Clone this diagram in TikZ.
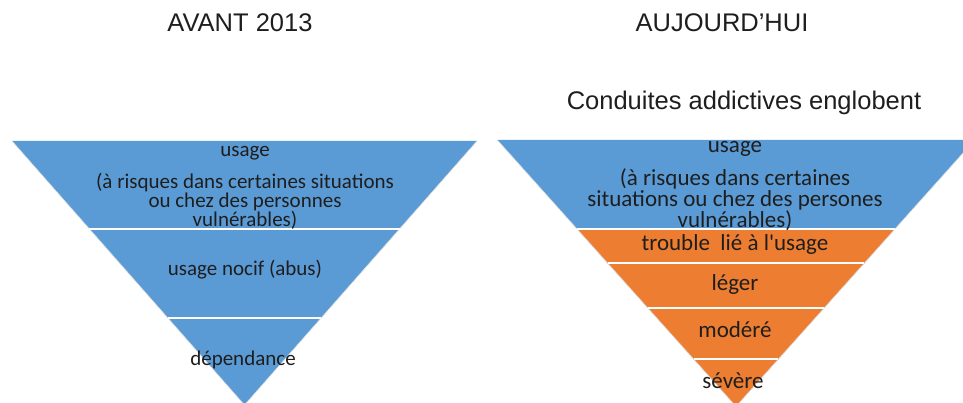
\documentclass[tikz,border=0pt]{standalone}
\usepackage{fontspec}
\setmainfont{Liberation Sans}
\newfontfamily\calfont{Carlito}
\usetikzlibrary{calc}
\definecolor{pyrblue}{HTML}{5B9BD5}
\definecolor{pyrorange}{HTML}{ED7D31}
\definecolor{txt}{HTML}{1E1E1E}
\begin{document}
\begin{tikzpicture}[x=1pt,y=-1pt,
  title/.style={font=\fontsize{25.5}{28}\selectfont, text=txt, inner sep=0pt, anchor=base},
  llbl/.style={font=\calfont\fontsize{21}{19}\selectfont, text=txt, inner sep=0pt, align=center},
  rlbl/.style={font=\calfont\fontsize{23}{21}\selectfont, text=txt, inner sep=0pt, align=center},
  divider/.style={draw=white, line width=1.5pt},
  edge/.style={draw=white!75!gray, line width=0.6pt}]
\useasboundingbox (0,0) rectangle (963,403);
% left pyramid
\coordinate (LA) at (12,141);
\coordinate (LB) at (477,141);
\coordinate (LC) at (244.5,405);
\fill[pyrblue] (LA) -- (LB) -- (LC) -- cycle;
\draw[edge] (LA) -- (LC) -- (LB);
\coordinate (L1a) at ($(LA)!0.3333!(LC)$);
\coordinate (L1b) at ($(LB)!0.3333!(LC)$);
\coordinate (L2a) at ($(LA)!0.6705!(LC)$);
\coordinate (L2b) at ($(LB)!0.6705!(LC)$);
\draw[divider] (L1a) -- (L1b);
\draw[divider] (L2a) -- (L2b);
% right pyramid
\coordinate (RA) at (497.3,140);
\coordinate (RB) at (974.7,140);
\coordinate (RC) at (736,406.4);
\coordinate (R1a) at ($(RA)!0.334!(RC)$);
\coordinate (R1b) at ($(RB)!0.334!(RC)$);
\coordinate (R2a) at ($(RA)!0.462!(RC)$);
\coordinate (R2b) at ($(RB)!0.462!(RC)$);
\coordinate (R3a) at ($(RA)!0.631!(RC)$);
\coordinate (R3b) at ($(RB)!0.631!(RC)$);
\coordinate (R4a) at ($(RA)!0.822!(RC)$);
\coordinate (R4b) at ($(RB)!0.822!(RC)$);
\fill[pyrblue] (RA) -- (RB) -- (RC) -- cycle;
\fill[pyrorange] (R1a) -- (R1b) -- (RC) -- cycle;
\draw[edge] (RA) -- (RC) -- (RB);
\draw[divider] (R1a) -- (R1b);
\draw[divider] (R2a) -- (R2b);
\draw[divider] (R3a) -- (R3b);
\draw[divider] (R4a) -- (R4b);
% titles
\node[title] (t1) at (240,32) {AVANT 2013};
\node[title] (t2) at (722,32) {AUJOURD’HUI};
\node[title] (t3) at (744,110) {Conduites addictives englobent};
% left labels
\node[llbl, anchor=base] (l1) at (245,157) {usage};
\node[llbl] (l2) at (245,201.5) {(à risques dans certaines situations\\ou chez des personnes\\vulnérables)};
\node[llbl, anchor=base] (l3) at (245,275) {usage nocif (abus)};
\node[llbl, anchor=base] (l4) at (243,365) {dépendance};
% right labels
\node[rlbl, anchor=base] (r1) at (735,153) {usage};
\node[rlbl] (r2) at (735,199.5) {(à risques dans certaines\\situations ou chez des persones\\vulnérables)};
\node[rlbl, anchor=base] (r3) at (735,250.5) {trouble~ lié à l'usage};
\node[rlbl, anchor=base] (r4) at (735,290.5) {léger};
\node[rlbl, anchor=base] (r5) at (735,337.5) {modéré};
\node[rlbl, anchor=base] (r6) at (733,388.5) {sévère};
\end{tikzpicture}
\end{document}
